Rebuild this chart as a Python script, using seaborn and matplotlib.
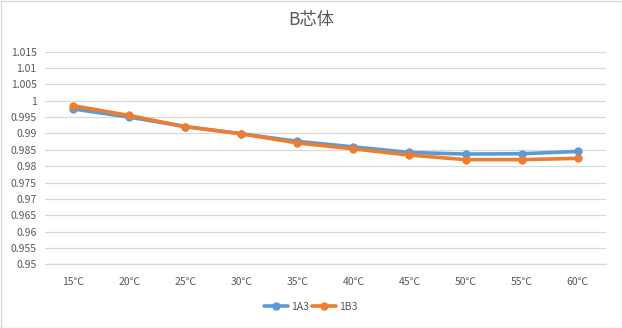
import matplotlib
matplotlib.use("Agg")
import matplotlib.pyplot as plt
import seaborn as sns
import pandas as pd
from matplotlib.patches import Rectangle

categories = ["15℃", "20℃", "25℃", "30℃", "35℃", "40℃", "45℃", "50℃", "55℃", "60℃"]
s_1a3 = [0.9975, 0.9950, 0.9921, 0.9899, 0.9876, 0.9859, 0.9842, 0.9837, 0.9838, 0.9845]
s_1b3 = [0.9985, 0.9955, 0.9921, 0.9899, 0.9871, 0.9853, 0.9834, 0.9820, 0.9820, 0.9824]
series_names = ["1A3", "1B3"]
yticks = [0.95, 0.955, 0.96, 0.965, 0.97, 0.975, 0.98, 0.985, 0.99, 0.995, 1.0, 1.005, 1.01, 1.015]
ytick_labels = ["0.95", "0.955", "0.96", "0.965", "0.97", "0.975", "0.98", "0.985", "0.99", "0.995", "1", "1.005", "1.01", "1.015"]
title = "B芯体"

df = pd.DataFrame({
    "cat": categories * 2,
    "x": list(range(len(categories))) * 2,
    "val": s_1a3 + s_1b3,
    "series": [series_names[0]] * len(categories) + [series_names[1]] * len(categories),
})

sns.set_theme(style="white")
plt.rcParams['font.family'] = ['Noto Sans CJK SC', 'DejaVu Sans']

text_color = "#595959"
fig = plt.figure(figsize=(6.22, 3.28), dpi=100)
ax = fig.add_axes([45 / 622, (328 - 264.3) / 328, 560.7 / 622, 212.6 / 328])

sns.lineplot(data=df, x="x", y="val", hue="series", palette=["#5B9BD5", "#ED7D31"],
             marker="o", markersize=6, markeredgewidth=0, linewidth=2.6, ax=ax, legend=True)

ax.set_xlim(-0.5, len(categories) - 0.5)
ax.set_ylim(0.95, 1.015)
ax.set_yticks(yticks)
ax.set_yticklabels(ytick_labels, fontsize=7.5, color=text_color)
ax.set_xticks(range(len(categories)))
ax.set_xticklabels(categories, fontsize=7.5, color=text_color)
ax.tick_params(axis="both", length=0, pad=6)
ax.tick_params(axis="x", pad=9)
ax.set_xlabel("")
ax.set_ylabel("")
ax.yaxis.grid(True, color="#D9D9D9", linewidth=0.9)
ax.xaxis.grid(False)
for s in ["top", "right", "left"]:
    ax.spines[s].set_visible(False)
ax.spines["bottom"].set_color("#D9D9D9")
ax.spines["bottom"].set_linewidth(0.9)

fig.text(0.5, 1 - 20 / 328, title, ha="center", va="center", fontsize=12.5, color=text_color)

handles, labels = ax.get_legend_handles_labels()
ax.legend(handles, labels, loc="center", bbox_to_anchor=(0.5, -0.2 - 0.0), bbox_transform=ax.transAxes,
          ncol=2, frameon=False, fontsize=7.5, labelcolor=text_color, handlelength=2.3,
          columnspacing=0.3, handletextpad=0.3)
leg = ax.get_legend()
leg.set_bbox_to_anchor((311 / 622, 1 - 307 / 328), transform=fig.transFigure)

fig.patches.append(Rectangle((0.5 / 622, 0.5 / 328), 621 / 622, 327 / 328, transform=fig.transFigure,
                             fill=False, edgecolor="#D9D9D9", linewidth=1))

fig.savefig("out.png", dpi=100, facecolor="white")
